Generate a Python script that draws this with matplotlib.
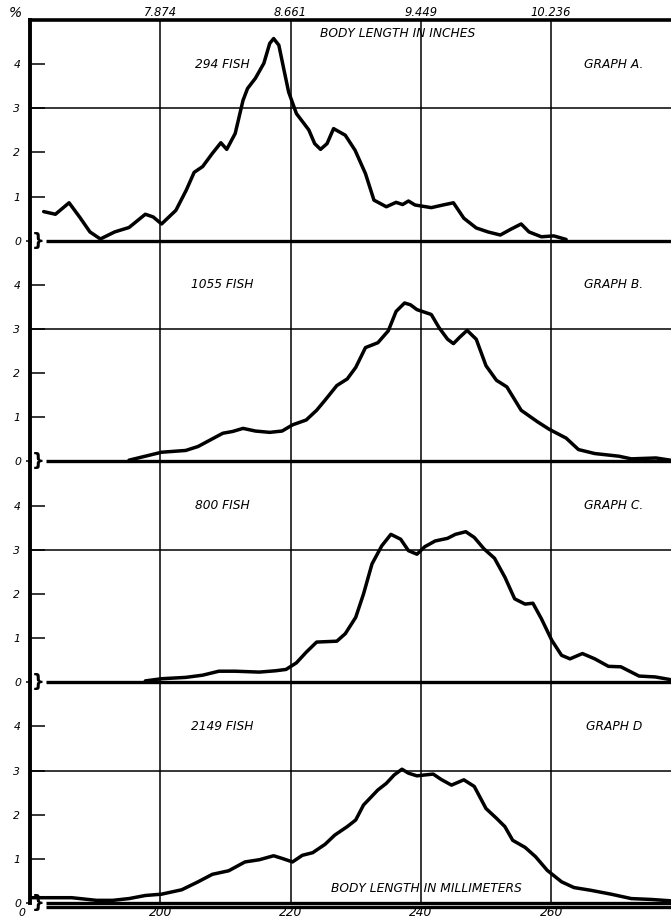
import numpy as np
import matplotlib.pyplot as plt

plt.rcParams['font.family'] = 'DejaVu Sans'

# body length (mm) and share of fish (%) for each sample
mm_a = [182.1, 183.9, 186.0, 187.6, 189.2, 190.8, 193.0, 195.2, 197.7, 198.9, 200.2, 202.4,
        204.0, 205.2, 206.5, 208.0, 209.3, 210.2, 211.5, 212.7, 213.4, 214.6, 215.9, 216.8,
        217.4, 218.2, 219.0, 219.7, 220.9, 222.8, 223.7, 224.6, 225.6, 226.6, 228.4, 229.9,
        231.5, 232.8, 234.7, 236.2, 237.2, 238.1, 239.1, 241.6, 243.4, 245.0, 246.6, 248.5,
        250.3, 252.2, 253.8, 255.4, 256.6, 258.5, 260.4, 262.3]
pct_a = [0.66, 0.60, 0.86, 0.54, 0.20, 0.04, 0.20, 0.30, 0.60, 0.54, 0.38, 0.69,
         1.15, 1.55, 1.68, 1.98, 2.22, 2.07, 2.43, 3.18, 3.45, 3.68, 4.02, 4.47,
         4.58, 4.43, 3.86, 3.37, 2.88, 2.51, 2.20, 2.07, 2.20, 2.54, 2.39, 2.05,
         1.52, 0.92, 0.77, 0.87, 0.82, 0.90, 0.81, 0.75, 0.81, 0.86, 0.51, 0.29,
         0.20, 0.13, 0.26, 0.38, 0.20, 0.09, 0.11, 0.03]

mm_b = [195.2, 197.7, 200.2, 203.9, 205.8, 207.7, 209.6, 211.1, 212.7, 214.6, 216.8, 218.7,
        220.3, 222.4, 224.0, 225.3, 227.1, 228.7, 230.0, 231.5, 233.4, 235.0, 236.2, 237.5,
        238.4, 239.4, 241.6, 242.8, 244.1, 245.0, 246.0, 247.1, 248.5, 250.0, 251.6, 253.2,
        255.4, 257.9, 259.7, 262.3, 264.2, 266.7, 270.4, 272.3, 276.1, 278.3]
pct_b = [0.03, 0.12, 0.21, 0.25, 0.34, 0.49, 0.64, 0.68, 0.75, 0.69, 0.66, 0.69,
         0.83, 0.94, 1.16, 1.39, 1.72, 1.87, 2.13, 2.58, 2.69, 2.96, 3.40, 3.59,
         3.55, 3.44, 3.33, 3.03, 2.77, 2.67, 2.82, 2.97, 2.77, 2.17, 1.84, 1.69,
         1.16, 0.90, 0.73, 0.53, 0.27, 0.18, 0.12, 0.06, 0.08, 0.03]

mm_c = [197.7, 200.2, 203.9, 206.5, 209.0, 211.5, 215.2, 217.7, 219.3, 220.9, 222.4, 224.0,
        227.1, 228.4, 230.0, 231.2, 232.5, 234.0, 235.4, 236.9, 238.1, 239.4, 240.6, 242.2,
        244.1, 245.3, 246.9, 248.2, 249.7, 251.3, 252.9, 254.4, 256.0, 257.2, 258.5, 260.1,
        261.6, 262.9, 264.8, 266.7, 268.8, 270.7, 273.5, 276.0, 278.3]
pct_c = [0.03, 0.08, 0.11, 0.16, 0.25, 0.25, 0.23, 0.26, 0.29, 0.44, 0.68, 0.91,
         0.93, 1.10, 1.47, 2.00, 2.68, 3.09, 3.35, 3.24, 2.98, 2.90, 3.07, 3.20,
         3.26, 3.35, 3.41, 3.28, 3.02, 2.81, 2.38, 1.89, 1.77, 1.79, 1.44, 0.95,
         0.61, 0.53, 0.65, 0.53, 0.36, 0.35, 0.14, 0.12, 0.06]

mm_d = [180.1, 183.3, 186.4, 190.2, 192.7, 195.2, 197.7, 200.2, 203.3, 205.8, 208.0, 210.5,
        213.0, 215.2, 217.4, 218.7, 220.3, 221.8, 223.4, 225.3, 226.8, 228.7, 230.0, 231.2,
        233.4, 234.7, 235.9, 237.1, 238.1, 239.4, 240.6, 241.9, 243.1, 244.7, 246.6, 248.2,
        250.0, 251.6, 252.9, 254.1, 256.0, 257.6, 259.4, 261.6, 263.5, 266.0, 269.2, 272.3,
        275.4, 278.3]
pct_d = [0.12, 0.12, 0.12, 0.06, 0.06, 0.10, 0.17, 0.20, 0.30, 0.48, 0.65, 0.73,
         0.93, 0.98, 1.07, 1.01, 0.93, 1.08, 1.14, 1.33, 1.54, 1.73, 1.88, 2.22,
         2.56, 2.71, 2.90, 3.03, 2.94, 2.88, 2.90, 2.92, 2.80, 2.67, 2.79, 2.64,
         2.14, 1.92, 1.73, 1.42, 1.26, 1.05, 0.74, 0.48, 0.35, 0.29, 0.20, 0.10,
         0.08, 0.05]

samples = [(mm_a, pct_a, '294 FISH', 'GRAPH A.'),
           (mm_b, pct_b, '1055 FISH', 'GRAPH B.'),
           (mm_c, pct_c, '800 FISH', 'GRAPH C.'),
           (mm_d, pct_d, '2149 FISH', 'GRAPH D')]

mm_ticks = [200, 220, 240, 260]
pct_ticks = [1, 2, 3, 4]
x_lo, x_hi = 180, 278.4
line_start = 182.5

W, H = 671, 919
fig = plt.figure(figsize=(W / 100, H / 100), dpi=100)
top_px, bot_px = 20, 903
panel_h = (bot_px - top_px) / 4

lbl = dict(style='italic', fontsize=7.8, color='black')
note = dict(style='italic', fontsize=8.8, color='black')
axes = []
for i, (xs, ys, count_txt, name_txt) in enumerate(samples):
    y0 = top_px + (i + 1) * panel_h
    ax = fig.add_axes([30 / W, 1 - y0 / H, 1 - 30 / W, panel_h / H])
    ax.patch.set_visible(False)
    axes.append(ax)
    ax.set_xlim(x_lo, x_hi)
    ax.set_ylim(0, 5)

    for s in ['right', 'bottom']:
        ax.spines[s].set_visible(False)
    ax.spines['top'].set_visible(i == 0)
    ax.spines['top'].set_linewidth(2.6)
    ax.spines['left'].set_linewidth(2.8)

    # grid: the 3 % line and the four length lines
    ax.axhline(3, color='black', lw=1.1, zorder=1)
    for t in mm_ticks:
        ax.axvline(t, color='black', lw=1.1, zorder=1)

    # zero line with the break mark next to the axis
    ax.hlines(0, line_start, x_hi, color='black', lw=2.4, clip_on=False, zorder=3)
    if i == 3:
        ax.hlines(-0.08, line_start, x_hi, color='black', lw=2.4, clip_on=False, zorder=3)
    ax.text(181.3, 0, '}', fontsize=13, fontweight='bold', ha='center', va='center',
            zorder=5)

    ax.plot(xs, ys, color='black', lw=2.5, solid_joinstyle='round',
            solid_capstyle='round', zorder=4)

    ax.set_yticks(pct_ticks)
    ax.set_yticklabels([str(v) for v in pct_ticks], **lbl)
    ax.set_yticks([0], minor=True)
    ax.set_yticklabels(['0'], minor=True, **lbl)
    ax.tick_params(axis='y', which='major', direction='in', length=11, width=1.1, pad=7)
    ax.tick_params(axis='y', which='minor', direction='out', length=3, width=1.1, pad=3)

    ax.set_xticks(mm_ticks)
    if i == 3:
        ax.set_xticklabels([str(v) for v in mm_ticks], style='italic', fontsize=8.8)
        ax.tick_params(axis='x', length=0, pad=2)
    else:
        ax.tick_params(axis='x', length=0, labelbottom=False)

    ax.text(209.5, 4.0, count_txt, ha='center', va='center', **note)
    ax.text(269.6, 4.0, name_txt, ha='center', va='center', **note)

# inch scale along the top
ax_top = axes[0].secondary_xaxis('top', functions=(lambda v: v / 25.4, lambda v: v * 25.4))
inch_ticks = [t / 25.4 for t in mm_ticks]
ax_top.set_xticks(inch_ticks)
ax_top.set_xticklabels([f'{v:.3f}' for v in inch_ticks], style='italic', fontsize=8.3)
ax_top.tick_params(length=0, pad=1)
ax_top.spines['top'].set_visible(False)

axes[0].text(236.4, 4.69, 'BODY LENGTH IN INCHES', ha='center', va='center', **note)
axes[3].text(240.8, 0.33, 'BODY LENGTH IN MILLIMETERS', ha='center', va='center', **note)

fig.text(15 / W, 1 - 13 / H, '%', ha='center', va='center', style='italic', fontsize=10)
fig.text(22 / W, 1 - 913 / H, '0', ha='center', va='center', **lbl)

fig.savefig('out.png', dpi=100, facecolor='white')
